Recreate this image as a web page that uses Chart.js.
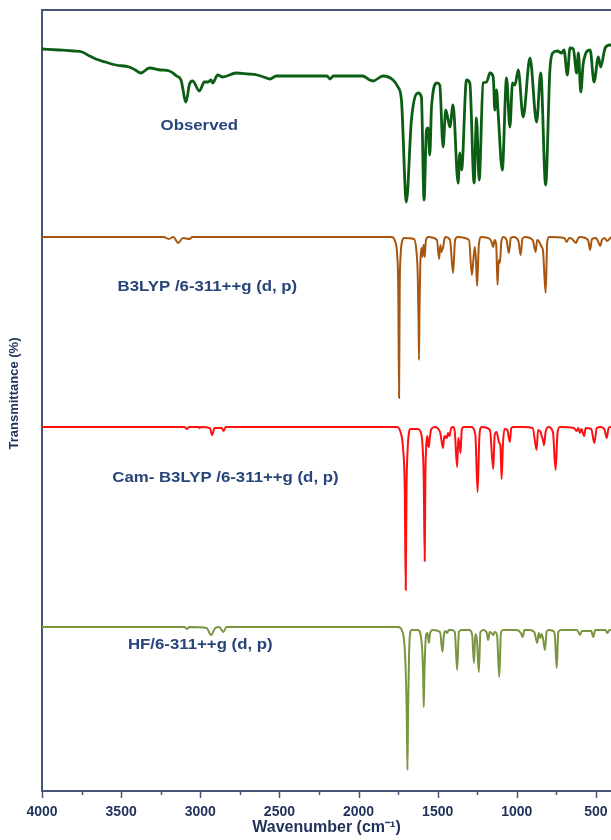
<!DOCTYPE html>
<html><head><meta charset="utf-8">
<script src="https://cdn.jsdelivr.net/npm/chart.js@4.4.1/dist/chart.umd.min.js"></script>
<style>html,body{margin:0;padding:0;background:#fff;overflow:hidden}canvas{display:block}</style>
</head><body>
<canvas id="c" width="611" height="840"></canvas>
<script>
// ---- data (wavenumber cm-1, transmittance in arbitrary stacked units) ----
const xTickValues = [4000, 3500, 3000, 2500, 2000, 1500, 1000, 500];
const xMinorValues = [3750, 3250, 2750, 2250, 1750, 1250, 750];
const seriesNames = ['Observed', 'B3LYP /6-311++g (d, p)', 'Cam- B3LYP /6-311++g (d, p)', 'HF/6-311++g (d, p)'];

const observed = [
  [4000,741],[3892,740],[3800,739],[3746,738],[3700,734],[3660,731],[3600,728],[3533,725],[3449,723],[3410,720],[3375,717],[3322,722],
  [3250,720],[3195,719],[3150,714],[3122,710],[3090,688],[3068,706],[3048,709],[3006,699],[2974,708],[2950,708],[2932,710],[2922,707],
  [2890,715],[2858,713],[2773,717],[2700,716],[2640,715],[2600,713],[2560,711],[2520,714],[2394,714],[2300,714],[2200,714],
  [2180,711],[2160,714],[2060,714],[1974,714],[1930,710],[1909,709],[1846,714],[1782,710],[1751,703],[1729,690],[1698,588],
  [1666,670],[1624,697],[1603,693],[1586,590],[1571,660],[1561,662],[1550,635],[1539,683],[1504,707],[1487,705],[1466,643],
  [1449,680],[1434,670],[1423,663],[1403,685],[1371,607],[1360,637],[1349,620],[1318,710],[1297,707],[1270,607],[1255,672],
  [1238,610],[1213,707],[1191,708],[1170,717],[1149,713],[1139,680],[1128,700],[1118,677],[1092,620],[1065,712],[1044,663],
  [1027,707],[1012,705],[991,720],[960,673],[917,732],[875,668],[849,717],[818,605],[791,720],[774,737],[744,739],[717,737],
  [702,740],[681,715],[664,742],[643,741],[622,717],[611,737],[596,698],[580,727],[537,740],[512,708],[485,733],[470,723],
  [442,742],[411,745],[405,745]
];

const b3lyp = [
  [4000,553],[3230,553],[3200,551],[3170,553],[3139,547],[3110,552],[3069,551],[3050,553],[1790,553],
  [1770,549],[1756,535],[1749,500],[1744,392],[1740,500],[1734,535],[1724,549],[1712,552],[1650,551],[1635,540],
  [1626,515],[1621,470],[1618,430],[1615,480],[1610,525],[1603,542],[1596,533],[1590,545],[1586,542],[1582,533],
  [1575,549],[1560,553],[1505,550],[1491,531],[1483,545],[1476,538],[1470,541],[1466,542],[1458,551],[1450,553],
  [1422,550],[1403,517],[1390,550],[1375,553],[1302,550],[1284,515],[1272,535],[1265,543],[1258,530],[1251,504],
  [1240,545],[1225,553],[1170,551],[1160,548],[1155,546],[1150,543],[1140,550],[1130,545],[1122,505],[1114,530],
  [1107,527],[1098,548],[1085,553],[1065,550],[1050,537],[1038,552],[1020,553],[990,549],[976,535],[965,551],
  [950,553],[900,550],[881,538],[872,550],[862,549],[852,546],[843,543],[835,540],[818,497],[808,548],[795,553],
  [700,552],[685,548],[670,552],[650,551],[640,549],[626,547],[615,551],[600,553],[550,550],[537,540],[525,551],
  [500,552],[485,548],[474,544],[462,550],[445,552],[430,549],[405,553]
];

const camB3lyp = [
  [4000,363],[3100,363],[3086,361],[3070,363],[3010,363],[3006,362],[2995,363],[2940,362],[2925,355],[2910,362],
  [2865,362],[2852,359],[2840,363],[1760,363],[1735,358],[1718,340],[1708,300],[1702,200],[1697,300],[1690,340],
  [1682,357],[1672,361],[1625,361],[1610,359],[1596,345],[1588,310],[1582,229],[1578,310],[1572,345],[1568,352],
  [1565,354],[1560,345],[1556,343],[1550,352],[1540,361],[1520,363],[1485,358],[1466,342],[1458,354],[1452,352],
  [1446,354],[1441,352],[1435,357],[1425,354],[1415,362],[1400,363],[1392,358],[1377,323],[1370,352],[1362,345],
  [1356,337],[1348,360],[1335,363],[1290,363],[1262,355],[1248,298],[1236,355],[1222,363],[1170,360],[1149,321],
  [1140,355],[1128,358],[1111,347],[1104,345],[1096,311],[1088,345],[1078,361],[1060,360],[1044,348],[1035,362],
  [1020,363],[960,363],[900,362],[875,340],[866,360],[850,358],[843,354],[835,350],[828,345],[818,358],[800,363],
  [772,358],[755,320],[743,357],[728,363],[640,362],[622,359],[612,362],[601,357],[592,361],[575,354],[565,362],
  [530,361],[510,347],[495,362],[470,363],[445,360],[432,352],[420,362],[405,363]
];

const hf = [
  [4000,163],[3100,163],[3086,161],[3070,163],[2960,162],[2932,155],[2905,162],[2880,163],[2854,158],[2835,163],
  [1750,163],[1722,158],[1706,135],[1696,80],[1691,20],[1687,80],[1681,135],[1674,157],[1664,160],[1625,160],
  [1600,145],[1592,115],[1588,83],[1584,115],[1578,145],[1572,156],[1565,157],[1555,147],[1548,157],[1530,160],
  [1485,158],[1470,138],[1460,156],[1450,159],[1440,157],[1430,160],[1410,160],[1392,158],[1377,120],[1366,158],
  [1350,160],[1300,160],[1282,155],[1271,127],[1262,156],[1252,150],[1240,118],[1230,158],[1210,160],[1190,157],
  [1181,150],[1172,158],[1160,157],[1149,155],[1140,158],[1125,155],[1111,113],[1100,158],[1085,160],[1000,160],
  [975,157],[963,153],[952,160],[920,160],[890,158],[871,147],[862,157],[852,152],[845,156],[835,152],[822,140],
  [812,158],[800,160],[770,159],[760,155],[748,122],[738,158],[720,160],[620,160],[601,155],[590,159],[530,159],
  [517,153],[505,160],[440,160],[428,157],[415,160],[405,160]
];

// ---- drawing ----
const AXIS = '#46557a';
const TXT = '#1f3158';
const LBL = '#28457a';
const FONT = '"Liberation Sans", Arial, sans-serif';
const labelAnchors = [[3006,664],[2955,503],[2841,312],[3000,145]];

const toXY = a => a.map(([x, y]) => ({x, y}));

const decor = {
  id: 'decor',
  afterDraw(chart) {
    const {ctx, chartArea: ca, scales: {x, y}} = chart;
    ctx.save();
    // top frame line
    ctx.strokeStyle = AXIS; ctx.lineWidth = 2;
    ctx.beginPath(); ctx.moveTo(ca.left - 1, ca.top); ctx.lineTo(ca.right + 2, ca.top); ctx.stroke();
    // tick marks
    ctx.lineWidth = 1.5;
    xTickValues.forEach(v => {
      const px = Math.round(x.getPixelForValue(v)) + 0.5;
      ctx.beginPath(); ctx.moveTo(px, ca.bottom); ctx.lineTo(px, ca.bottom + 7); ctx.stroke();
    });
    xMinorValues.forEach(v => {
      const px = Math.round(x.getPixelForValue(v)) + 0.5;
      ctx.beginPath(); ctx.moveTo(px, ca.bottom); ctx.lineTo(px, ca.bottom + 4); ctx.stroke();
    });
    // y axis title
    ctx.fillStyle = TXT;
    ctx.font = 'bold 13px ' + FONT;
    ctx.textAlign = 'center'; ctx.textBaseline = 'middle';
    ctx.save();
    ctx.translate(14, (ca.top + ca.bottom) / 2 - 7);
    ctx.rotate(-Math.PI / 2);
    ctx.fillText('Transmittance (%)', 0, 0);
    ctx.restore();
    // series labels
    ctx.fillStyle = LBL;
    ctx.font = 'bold 14px ' + FONT;
    seriesNames.forEach((n, i) => {
      ctx.save();
      ctx.translate(x.getPixelForValue(labelAnchors[i][0]), y.getPixelForValue(labelAnchors[i][1]));
      ctx.scale(1.2, 1);
      ctx.fillText(n, 0, 0);
      ctx.restore();
    });
    ctx.restore();
  }
};

new Chart(document.getElementById('c'), {
  type: 'line',
  data: {
    datasets: [
      {label: seriesNames[0], data: toXY(observed), borderColor: '#0b5e14', borderWidth: 2.8, cubicInterpolationMode: 'monotone'},
      {label: seriesNames[1], data: toXY(b3lyp), borderColor: '#a8560f', borderWidth: 2, cubicInterpolationMode: 'monotone'},
      {label: seriesNames[2], data: toXY(camB3lyp), borderColor: '#ff1010', borderWidth: 2, cubicInterpolationMode: 'monotone'},
      {label: seriesNames[3], data: toXY(hf), borderColor: '#7a9440', borderWidth: 2, cubicInterpolationMode: 'monotone'}
    ]
  },
  options: {
    responsive: false,
    animation: false,
    devicePixelRatio: 1,
    layout: {padding: {top: 10, right: 0, left: 0, bottom: 0}},
    elements: {point: {radius: 0}, line: {fill: false}},
    plugins: {legend: {display: false}, tooltip: {enabled: false}},
    scales: {
      x: {
        type: 'linear', reverse: true, min: 405, max: 4000,
        afterBuildTicks: s => { s.ticks = xTickValues.map(v => ({value: v})); },
        afterFit: s => { s.height = 49; s.paddingLeft = 0; s.paddingRight = 0; },
        ticks: {callback: v => String(v), color: TXT, padding: 13, maxRotation: 0, autoSkip: false,
                font: {family: FONT, size: 14, weight: 'bold'}},
        grid: {display: false, drawTicks: false},
        border: {display: true, color: AXIS, width: 2},
        title: {display: true, text: 'Wavenumber (cm⁻¹)', color: TXT, padding: {top: 0, bottom: 3},
                font: {family: FONT, size: 16, weight: 'bold'}}
      },
      y: {
        type: 'linear', min: -1, max: 780,
        afterFit: s => { s.width = 42; s.paddingTop = 0; s.paddingBottom = 0; },
        ticks: {display: false},
        grid: {display: false, drawTicks: false},
        border: {display: true, color: AXIS, width: 2},
        title: {display: false}
      }
    }
  },
  plugins: [decor]
});
</script>
</body></html>
